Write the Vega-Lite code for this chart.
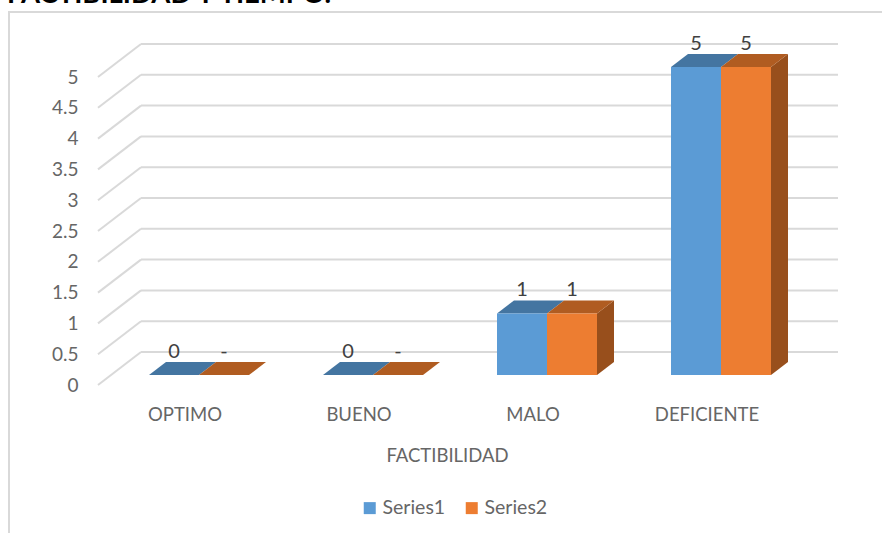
{
"$schema":"https://vega.github.io/schema/vega-lite/v6.json",
"autosize":{"type":"none"},
"padding":{"left":9,"top":12,"right":0,"bottom":0},
"width":890,"height":540,
"background":"white",
"title":{"text":"FACTIBILIDAD Y TIEMPO.","anchor":"start","frame":"group","offset":-18,"dx":-2,"baseline":"alphabetic","font":"Lato","fontSize":27.5,"fontWeight":"bold","color":"#000000"},
"config":{"view":{"stroke":"#D9D9D9","strokeWidth":2},"font":"Lato",
"axisX":{"offset":-147,"labelAngle":0,"domain":false,"ticks":false,"grid":false,"labelPadding":0,"labelOffset":-14,"labelFont":"Lato","labelFontSize":18.5,"labelColor":"#666666","titleFont":"Lato","titleFontSize":18.5,"titleFontWeight":"normal","titleColor":"#666666","titlePadding":23},
"axisY":{"offset":-69,"domain":false,"ticks":false,"grid":false,"labelPadding":0,"labelFont":"Lato","labelFontSize":19,"labelColor":"#666666"}},
"datasets":{
"bars":[
{"factibilidad":"OPTIMO","series":"Series1","value":0,"label":"0"},
{"factibilidad":"OPTIMO","series":"Series2","value":0,"label":"-"},
{"factibilidad":"BUENO","series":"Series1","value":0,"label":"0"},
{"factibilidad":"BUENO","series":"Series2","value":0,"label":"-"},
{"factibilidad":"MALO","series":"Series1","value":1,"label":"1"},
{"factibilidad":"MALO","series":"Series2","value":1,"label":"1"},
{"factibilidad":"DEFICIENTE","series":"Series1","value":5,"label":"5"},
{"factibilidad":"DEFICIENTE","series":"Series2","value":5,"label":"5"}
],
"grid":[{"v":0},{"v":0.5},{"v":1},{"v":1.5},{"v":2},{"v":2.5},{"v":3},{"v":3.5},{"v":4},{"v":4.5},{"v":5}]
},
"layer":[
{"data":{"name":"grid"},
"mark":{"type":"rule","color":"#D9D9D9","strokeWidth":2,"xOffset":-58,"x2Offset":117,"yOffset":-33,"y2Offset":-33},
"encoding":{
"x":{"datum":"OPTIMO","type":"nominal","scale":{"domain":["OPTIMO","BUENO","MALO","DEFICIENTE"],"range":[103,799],"paddingInner":0,"paddingOuter":0},"axis":{"title":"FACTIBILIDAD","titleX":438}},
"x2":{"datum":"DEFICIENTE"},
"y":{"field":"v","type":"quantitative","scale":{"domain":[0,5],"range":[373,65],"nice":false,"zero":false},"axis":{"title":null,"values":[0,0.5,1,1.5,2,2.5,3,3.5,4,4.5,5],"format":"~g"}},
"y2":{"field":"v"}}},
{"data":{"name":"grid"},
"mark":{"type":"rule","color":"#D9D9D9","strokeWidth":2,"xOffset":-101,"x2Offset":-58,"y2Offset":-33},
"encoding":{
"x":{"datum":"OPTIMO","type":"nominal","axis":{"title":"FACTIBILIDAD","titleX":438}},
"x2":{"datum":"OPTIMO"},
"y":{"field":"v","type":"quantitative","axis":{"title":null,"values":[0,0.5,1,1.5,2,2.5,3,3.5,4,4.5,5],"format":"~g"}},
"y2":{"field":"v"}}},
{"data":{"name":"bars"},
"transform":[{"filter":"datum.series === 'Series2' && datum.value > 0"}],
"mark":{"type":"point","filled":true,"size":4,"opacity":1,"fill":"#984F1C","strokeWidth":0},
"encoding":{
"x":{"field":"factibilidad","type":"nominal","sort":["OPTIMO","BUENO","MALO","DEFICIENTE"],"axis":{"title":"FACTIBILIDAD","titleX":438}},
"xOffset":{"field":"series","type":"nominal","scale":{"domain":["Series1","Series2"],"paddingInner":0,"paddingOuter":0.74}},
"y":{"field":"value","type":"quantitative","axis":{"title":null,"values":[0,0.5,1,1.5,2,2.5,3,3.5,4,4.5,5],"format":"~g"}},
"shape":{"field":"value","type":"nominal","legend":null,"scale":{"domain":[1,5],"range":["M25,-10L42,-23L42,38.6L25,51.6Z","M25,-10L42,-23L42,285L25,298Z"]}}}},
{"data":{"name":"bars"},
"mark":{"type":"point","filled":true,"size":4,"opacity":1,"strokeWidth":0,"shape":"M-25,-10L25,-10L42,-23L-8,-23Z"},
"encoding":{
"x":{"field":"factibilidad","type":"nominal","sort":["OPTIMO","BUENO","MALO","DEFICIENTE"],"axis":{"title":"FACTIBILIDAD","titleX":438}},
"xOffset":{"field":"series","type":"nominal"},
"y":{"field":"value","type":"quantitative","axis":{"title":null,"values":[0,0.5,1,1.5,2,2.5,3,3.5,4,4.5,5],"format":"~g"}},
"fill":{"condition":{"test":"datum.series === 'Series1'","value":"#4475A1"},"value":"#B05C21"}}},
{"data":{"name":"bars"},
"mark":{"type":"bar","yOffset":-10,"y2Offset":-10,"stroke":null},
"encoding":{
"x":{"field":"factibilidad","type":"nominal","sort":["OPTIMO","BUENO","MALO","DEFICIENTE"],"axis":{"title":"FACTIBILIDAD","titleX":438}},
"xOffset":{"field":"series","type":"nominal"},
"y":{"field":"value","type":"quantitative","axis":{"title":null,"values":[0,0.5,1,1.5,2,2.5,3,3.5,4,4.5,5],"format":"~g"}},
"y2":{"datum":0},
"color":{"field":"series","type":"nominal","scale":{"domain":["Series1","Series2"],"range":["#5B9BD5","#ED7D31"]},"legend":{"orient":"none","legendX":351,"legendY":486,"direction":"horizontal","title":null,"symbolType":"square","symbolSize":144,"symbolStrokeWidth":0,"labelFont":"Lato","labelFontSize":19.5,"labelColor":"#666666","labelOffset":3,"columnPadding":16}}}},
{"data":{"name":"bars"},
"mark":{"type":"text","baseline":"middle","dy":-33.5,"font":"Lato","fontSize":20,"color":"#404040"},
"encoding":{
"x":{"field":"factibilidad","type":"nominal","sort":["OPTIMO","BUENO","MALO","DEFICIENTE"],"axis":{"title":"FACTIBILIDAD","titleX":438}},
"xOffset":{"field":"series","type":"nominal"},
"y":{"field":"value","type":"quantitative","axis":{"title":null,"values":[0,0.5,1,1.5,2,2.5,3,3.5,4,4.5,5],"format":"~g"}},
"text":{"field":"label"}}}
]
}
